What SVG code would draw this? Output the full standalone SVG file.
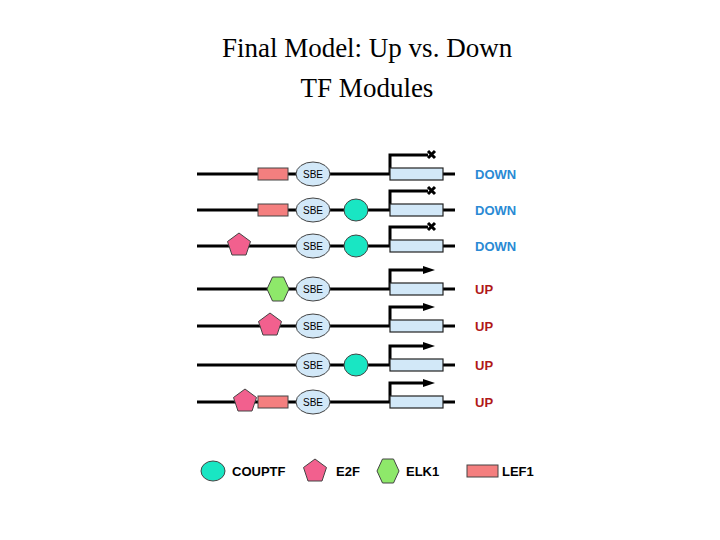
<svg xmlns="http://www.w3.org/2000/svg" width="720" height="540" viewBox="0 0 720 540">
<style>
.t{font-family:"Liberation Serif",serif;font-size:27px;text-anchor:middle}
.ln{stroke:#000;stroke-width:3;fill:none}
.lef{fill:#f47f7f;stroke:#444;stroke-width:1}
.sbe{fill:#d2e8f8;stroke:#444;stroke-width:1}
.st{font-family:"Liberation Sans",sans-serif;font-size:10px;text-anchor:middle}
.cou{fill:#19e6c3;stroke:#444;stroke-width:1}
.e2f{fill:#f2608e;stroke:#444;stroke-width:1}
.elk{fill:#8ee86a;stroke:#444;stroke-width:1}
.gene{fill:#d2e8f8;stroke:#222;stroke-width:1.2}
.dn{font-family:"Liberation Sans",sans-serif;font-size:13px;font-weight:bold;fill:#2a8ad4}
.up{font-family:"Liberation Sans",sans-serif;font-size:13px;font-weight:bold;fill:#b01818}
.lg{font-family:"Liberation Sans",sans-serif;font-size:13px;font-weight:bold}
</style>
<defs>
<g id="pent"><polygon points="0,-12 11.5,-3.5 7,10 -7,10 -11.5,-3.5" class="e2f"/></g>
<g id="hex"><polygon points="-11,0 -5.5,-12 5.5,-12 11,0 5.5,12 -5.5,12" class="elk"/></g>
<g id="sbe"><ellipse rx="17" ry="12" class="sbe"/><text y="4" class="st">SBE</text></g>
<g id="down"><path d="M390,0 V-19 H428" class="ln"/><path d="M428,-23 l7,7 M435,-23 l-7,7" stroke="#000" stroke-width="3"/><rect x="390" y="-6" width="53" height="12" class="gene"/></g>
<g id="upg"><path d="M390,0 V-19 H425" class="ln"/><polygon points="423,-23 435,-19 423,-15" fill="#000"/><rect x="390" y="-6" width="53" height="12" class="gene"/></g>
</defs>
<text x="367" y="57" class="t">Final Model: Up vs. Down</text>
<text x="367" y="97" class="t">TF Modules</text>
<g id="connectors">
<path d="M197,174 H455 M197,210 H455 M197,246 H455 M197,289 H455 M197,326 H455 M197,365 H455 M197,402 H455" class="ln"/>
</g>
<g id="row1" transform="translate(0,174)"><rect x="258" y="-6" width="30" height="12" class="lef"/><use href="#sbe" x="313"/><use href="#down"/><text x="475" y="5" class="dn">DOWN</text></g>
<g id="row2" transform="translate(0,210)"><rect x="258" y="-6" width="30" height="12" class="lef"/><use href="#sbe" x="313"/><ellipse cx="356" rx="12" ry="11" class="cou"/><use href="#down"/><text x="475" y="5" class="dn">DOWN</text></g>
<g id="row3" transform="translate(0,246)"><use href="#pent" x="239" y="-1"/><use href="#sbe" x="313"/><ellipse cx="356" rx="12" ry="11" class="cou"/><use href="#down"/><text x="475" y="5" class="dn">DOWN</text></g>
<g id="row4" transform="translate(0,289)"><use href="#hex" x="278"/><use href="#sbe" x="313"/><use href="#upg"/><text x="475" y="5" class="up">UP</text></g>
<g id="row5" transform="translate(0,326)"><use href="#pent" x="270" y="-1"/><use href="#sbe" x="313"/><use href="#upg"/><text x="475" y="5" class="up">UP</text></g>
<g id="row6" transform="translate(0,365)"><use href="#sbe" x="313"/><ellipse cx="356" rx="12" ry="11" class="cou"/><use href="#upg"/><text x="475" y="5" class="up">UP</text></g>
<g id="row7" transform="translate(0,402)"><use href="#pent" x="245" y="-1"/><rect x="258" y="-6" width="30" height="12" class="lef"/><use href="#sbe" x="313"/><use href="#upg"/><text x="475" y="5" class="up">UP</text></g>
<g id="legend">
<ellipse cx="213" cy="471" rx="12" ry="10" class="cou"/><text x="232" y="476" class="lg">COUPTF</text>
<use href="#pent" x="315" y="471"/><text x="336" y="476" class="lg">E2F</text>
<use href="#hex" x="388" y="471"/><text x="406" y="476" class="lg">ELK1</text>
<rect x="467" y="465" width="31" height="12" class="lef"/><text x="502" y="476" class="lg">LEF1</text>
</g>
</svg>
